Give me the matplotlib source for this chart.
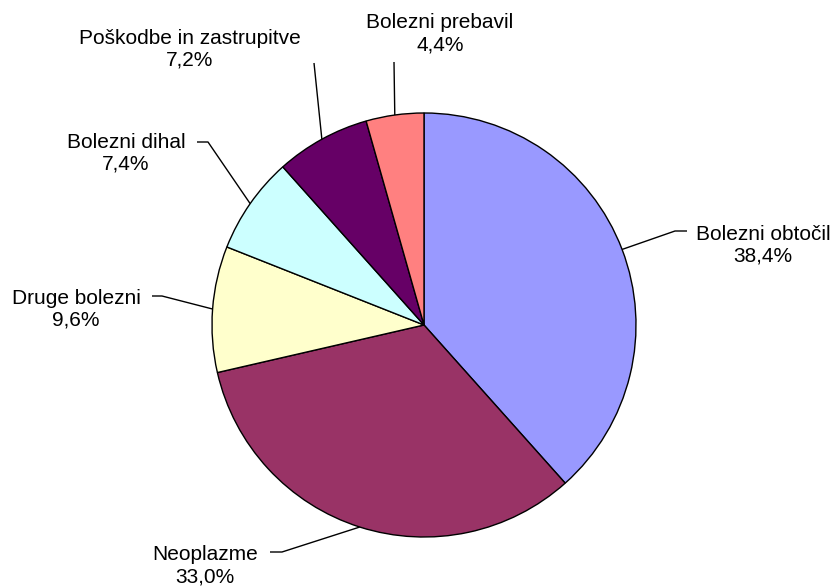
import numpy as np
import matplotlib
matplotlib.use('Agg')
import matplotlib.pyplot as plt

# ── Data ──────────────────────────────────────────────────────────────────────
categories = ["Bolezni obtočil", "Neoplazme", "Druge bolezni",
              "Bolezni dihal", "Poškodbe in zastrupitve", "Bolezni prebavil"]
shares = [38.4, 33.0, 9.6, 7.4, 7.2, 4.4]
colors = ["#9999FF", "#993366", "#FFFFCC", "#CCFFFF", "#660066", "#FF8080"]

# ── Layout (pixel coords, top-down) ───────────────────────────────────────────
W, H = 836, 587
CX, CY, R = 424, 325, 212
# label centre, elbow point, tail point (None -> straight leader)
label_pos = [(763, 245), (205, 566), (76, 309), (126, 153), (190, 49), (440, 34)]
elbow_pos = [(675, 231), (282, 552), (162, 296), (208, 142), (314, 63), (394, 62)]
tail_pos = [(687, 231), (270, 552), (152, 296), (197, 142), None, None]

plt.rcParams['font.family'] = ['Liberation Sans', 'DejaVu Sans']

fig = plt.figure(figsize=(W / 100, H / 100), dpi=100)
ax = fig.add_axes([0, 0, 1, 1])

ax.pie(shares, colors=colors, startangle=90, counterclock=False,
       center=(CX, H - CY), radius=R,
       wedgeprops=dict(edgecolor='black', linewidth=1.0))

ax.set_xlim(0, W)
ax.set_ylim(0, H)
ax.set_aspect('equal')
ax.axis('off')

# leader lines + labels
total = sum(shares)
cum = 0.0
for name, val, lp, ep, tp in zip(categories, shares, label_pos, elbow_pos, tail_pos):
    mid = 90 - (cum + val / 2) / total * 360
    cum += val
    px = CX + R * np.cos(np.radians(mid))
    py = CY - R * np.sin(np.radians(mid))
    xs = [px, ep[0]]
    ys = [py, ep[1]]
    if tp is not None:
        xs.append(tp[0])
        ys.append(tp[1])
    ax.plot(xs, [H - y for y in ys], color='black', linewidth=1.0,
            solid_capstyle='butt')
    txt = f"{name}\n{val:.1f}%".replace('.', ',')
    ax.text(lp[0], H - lp[1], txt, ha='center', va='center',
            multialignment='center', fontsize=15, color='black')

fig.savefig('out.png', dpi=100)
plt.close(fig)
